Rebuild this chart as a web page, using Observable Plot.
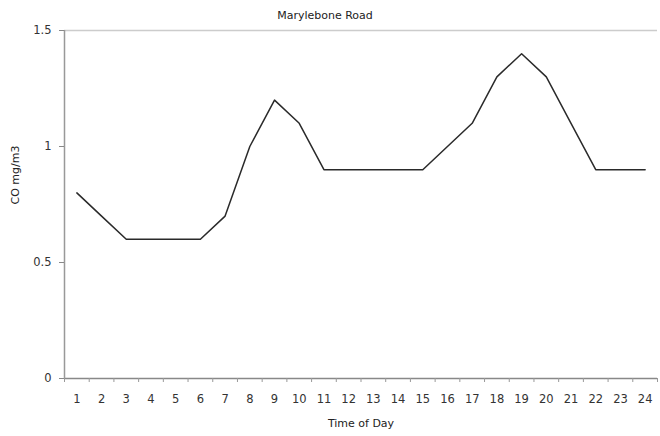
<!DOCTYPE html>
<html><head><meta charset="utf-8">
<script src="https://cdn.jsdelivr.net/npm/d3@7"></script>
<script src="https://cdn.jsdelivr.net/npm/@observablehq/plot@0.6"></script>
<style>body{margin:0;background:#fff;} svg{display:block;}</style>
</head><body><div id="chart"></div>
<script>
const title = "Marylebone Road";
const hours = [1,2,3,4,5,6,7,8,9,10,11,12,13,14,15,16,17,18,19,20,21,22,23,24];
const co = [0.8,0.7,0.6,0.6,0.6,0.6,0.7,1.0,1.2,1.1,0.9,0.9,0.9,0.9,0.9,1.0,1.1,1.3,1.4,1.3,1.1,0.9,0.9,0.9];
const yTicks = [0, 0.5, 1, 1.5];
const xLabel = "Time of Day";
const yLabel = "CO mg/m3";

const data = hours.map((h, i) => ({hour: h, co: co[i]}));
const between = hours.map(h => h - 0.5).concat([hours.length + 0.5]);
const font = "DejaVu Sans, Verdana, sans-serif";

const chart = Plot.plot({
  width: 660, height: 436,
  marginLeft: 64, marginRight: 3, marginTop: 30, marginBottom: 58,
  style: {fontFamily: font, fontSize: "11px", color: "#333", background: "#fff"},
  x: {type: "linear", domain: [0.5, 24.5]},
  y: {type: "linear", domain: [0, 1.5]},
  marks: [
    Plot.ruleY([1.5], {stroke: "#ccc", strokeWidth: 1.5}),
    Plot.ruleY([0], {stroke: "#888", strokeWidth: 1.5}),
    Plot.ruleX([0.5], {stroke: "#999", strokeWidth: 1.5}),
    Plot.axisX(between, {tickSize: 4, tickFormat: () => "", stroke: "#999", label: null}),
    Plot.axisX(hours, {tickSize: 0, tickPadding: 16, tickFormat: d => String(d), label: null, fill: "#333", fontSize: 11.5}),
    Plot.axisY(yTicks, {tickSize: 5, tickPadding: 8, tickFormat: d => String(d), label: null, stroke: "#888", fill: "#333", fontSize: 11.5}),
    Plot.text([xLabel], {frameAnchor: "bottom", dy: 48, text: d => d, fontSize: 11, fill: "#222"}),
    Plot.text([yLabel], {frameAnchor: "left", dx: -49, rotate: -90, text: d => d, fontSize: 11, fill: "#222"}),
    Plot.text([title], {frameAnchor: "top", dy: -19, dx: -36, text: d => d, fontSize: 11, fill: "#222"}),
    Plot.line(data, {x: "hour", y: "co", stroke: "#2a2a2a", strokeWidth: 1.5})
  ]
});
document.getElementById("chart").append(chart);
</script></body></html>
